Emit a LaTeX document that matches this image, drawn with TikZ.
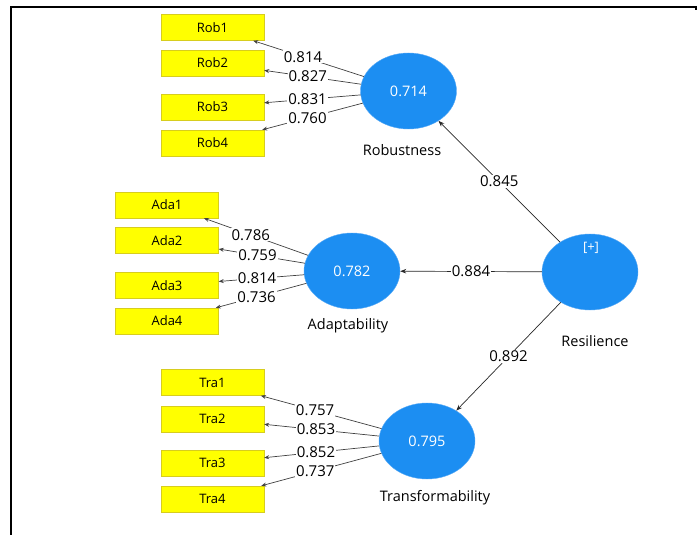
\documentclass[tikz,border=0pt]{standalone}
\usepackage{fontspec}
\setmainfont{Open Sans}
\usepackage{tikz}
\usetikzlibrary{shapes}
\usetikzlibrary{arrows.meta}
\definecolor{lvblue}{RGB}{28,142,242}
\definecolor{lvedge}{RGB}{90,170,245}
\definecolor{mvyellow}{RGB}{255,255,0}
\definecolor{mvedge}{RGB}{215,205,30}
\tikzset{
  indicator/.style={draw=mvedge, fill=mvyellow, minimum width=103pt, minimum height=26pt, inner sep=0pt, font=\fontsize{13}{15}\selectfont},
  construct/.style={ellipse, draw=lvedge, fill=lvblue, minimum width=96pt, minimum height=76pt, inner sep=0pt, text=white, font=\fontsize{14.5}{17}\selectfont},
  cname/.style={font=\fontsize{14.5}{17}\selectfont},
  loading/.style={->, >={Stealth[length=5pt,width=4pt]}, draw=black!75, line width=0.7pt},
  path/.style={->, >={Stealth[length=6pt,width=4.5pt]}, draw=black!85, line width=0.7pt},
  coef/.style={fill=white, inner sep=1pt, font=\fontsize{15}{17}\selectfont}
}
\begin{document}
\begin{tikzpicture}[x=1pt, y=-1pt]
\useasboundingbox (0,0) rectangle (697,535);
% frame
\draw[line width=1.5pt] (11,535) -- (11,7) -- (696,7) -- (696,10);
% indicators
\node[indicator] (rob1) at (212.5,27.5) {Rob1};
\node[indicator] (rob2) at (212.5,63) {Rob2};
\node[indicator] (rob3) at (212.5,107) {Rob3};
\node[indicator] (rob4) at (212.5,143) {Rob4};
\node[indicator] (ada1) at (167,205) {Ada1};
\node[indicator] (ada2) at (167,240.5) {Ada2};
\node[indicator] (ada3) at (167,285.5) {Ada3};
\node[indicator] (ada4) at (167,321) {Ada4};
\node[indicator] (tra1) at (212.5,382.5) {Tra1};
\node[indicator] (tra2) at (212.5,419) {Tra2};
\node[indicator] (tra3) at (212.5,463) {Tra3};
\node[indicator] (tra4) at (212.5,499) {Tra4};
% constructs
\node[construct] (rob) at (408.5,91) {0.714};
\node[construct] (ada) at (352,271) {0.782};
\node[construct] (tra) at (427,441) {0.795};
\node[construct] (res) at (590,272) {};
\node[text=white, font=\fontsize{13}{15}\selectfont] (resplus) at (591,248) {[+]};
\node[cname] (robname) at (402,150) {Robustness};
\node[cname] (adaname) at (348,326) {Adaptability};
\node[cname] (traname) at (435,498) {Transformability};
\node[cname] (resname) at (595,341) {Resilience};
% outer loadings
\draw[loading] (rob) -- (rob1) node[coef, pos=0.55] {0.814};
\draw[loading] (rob) -- (rob2) node[coef, pos=0.55] {0.827};
\draw[loading] (rob) -- (rob3) node[coef, pos=0.55] {0.831};
\draw[loading] (rob) -- (rob4) node[coef, pos=0.55] {0.760};
\draw[loading] (ada) -- (ada1) node[coef, pos=0.55] {0.786};
\draw[loading] (ada) -- (ada2) node[coef, pos=0.55] {0.759};
\draw[loading] (ada) -- (ada3) node[coef, pos=0.55] {0.814};
\draw[loading] (ada) -- (ada4) node[coef, pos=0.55] {0.736};
\draw[loading] (tra) -- (tra1) node[coef, pos=0.55] {0.757};
\draw[loading] (tra) -- (tra2) node[coef, pos=0.55] {0.853};
\draw[loading] (tra) -- (tra3) node[coef, pos=0.55] {0.852};
\draw[loading] (tra) -- (tra4) node[coef, pos=0.55] {0.737};
% path coefficients
\draw[path] (res) -- (rob) node[coef, pos=0.5] {0.845};
\draw[path] (res) -- (ada) node[coef, pos=0.5] {0.884};
\draw[path] (res) -- (tra) node[coef, pos=0.5] {0.892};
\end{tikzpicture}
\end{document}
